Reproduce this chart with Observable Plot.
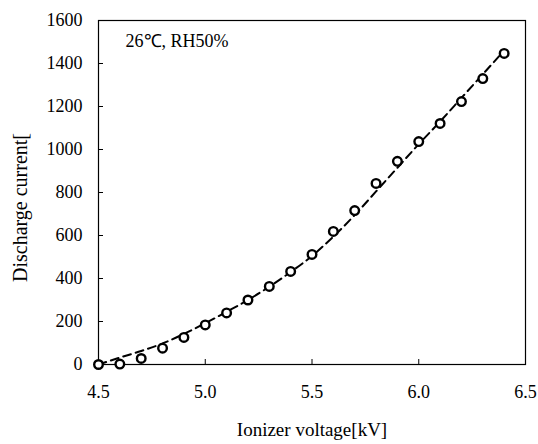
<!DOCTYPE html>
<html>
<head>
<meta charset="utf-8">
<script src="https://cdn.jsdelivr.net/npm/d3@7"></script>
<script src="https://cdn.jsdelivr.net/npm/@observablehq/plot@0.6"></script>
<style>
  body { margin: 0; background: #fff; }
  #chart svg, #chart svg text { font-family: "Liberation Serif", serif !important; font-variant: normal !important; }
</style>
</head>
<body>
<div id="chart"></div>
<script>
const voltage = [4.5, 4.6, 4.7, 4.8, 4.9, 5.0, 5.1, 5.2, 5.3, 5.4, 5.5, 5.6, 5.7, 5.8, 5.9, 6.0, 6.1, 6.2, 6.3, 6.4];
const measured = [0, 2, 28, 76, 126, 184, 240, 300, 363, 433, 512, 619, 716, 842, 945, 1037, 1121, 1223, 1330, 1447];
const fitted = [0, 32, 63, 98, 142, 192, 245, 300, 362, 430, 505, 595, 695, 805, 915, 1025, 1130, 1240, 1350, 1460];
const xTicks = [4.5, 5.0, 5.5, 6.0, 6.5];
const yTicks = [0, 200, 400, 600, 800, 1000, 1200, 1400, 1600];
const annotation = "26\u2103, RH50%";
const serif = "Liberation Serif";

const pts = voltage.map((v, i) => ({v, c: measured[i]}));
const fit = voltage.map((v, i) => ({v, c: fitted[i]}));

const chart = Plot.plot({
  width: 538,
  height: 444,
  marginLeft: 98,
  marginRight: 13,
  marginTop: 20,
  marginBottom: 80,
  style: {fontFamily: serif, fontSize: "18px", color: "#000", background: "#fff"},
  x: {domain: [4.5, 6.5]},
  y: {domain: [0, 1600]},
  marks: [
    Plot.frame({stroke: "#000", strokeWidth: 1.2}),
    Plot.axisY(yTicks, {tickSize: 0, tickPadding: 16, label: null, fontSize: 18, fontFamily: serif, fontVariant: "normal", tickFormat: d => String(d)}),
    Plot.axisY(yTicks, {tickSize: 5, dx: 5, text: null, label: null, stroke: "#000"}),
    Plot.axisX(xTicks, {tickSize: 0, tickPadding: 21, label: null, fontSize: 18, fontFamily: serif, fontVariant: "normal", tickFormat: d => d.toFixed(1)}),
    Plot.axisX(xTicks, {tickSize: 5, dy: -5, text: null, label: null, stroke: "#000"}),
    Plot.line(fit, {x: "v", y: "c", stroke: "#000", strokeWidth: 2, strokeDasharray: "8,5", curve: "monotone-x"}),
    Plot.dot(pts, {x: "v", y: "c", r: 4.3, stroke: "#000", strokeWidth: 2.4, fill: "#fff"}),
    Plot.text([annotation], {frameAnchor: "top-left", dx: 27, dy: 14, fontSize: 18, fontFamily: serif, textAnchor: "start", fill: "#000"}),
    Plot.text(["Ionizer voltage[kV]"], {frameAnchor: "bottom", dy: 71, fontSize: 19, fontFamily: serif, textAnchor: "middle", fill: "#000"}),
    Plot.text(["Discharge current["], {frameAnchor: "left", dx: -78, dy: 15, rotate: -90, fontSize: 20, fontFamily: serif, textAnchor: "middle", fill: "#000"})
  ]
});
d3.select(chart).selectAll("text").style("font-family", "'Liberation Serif', serif");
document.getElementById("chart").appendChild(chart);
</script>
</body>
</html>
